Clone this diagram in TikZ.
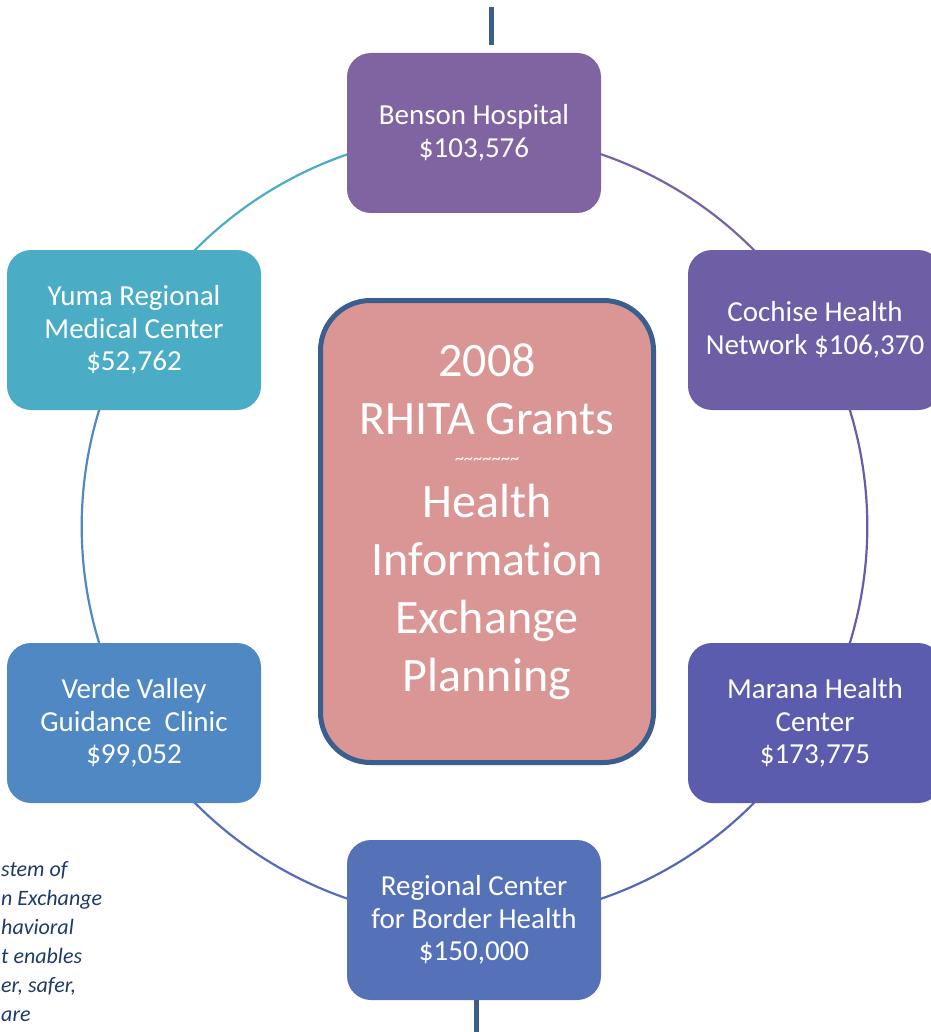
\documentclass[tikz,border=0pt]{standalone}
\usepackage{fontspec}
\setmainfont{Carlito}[Ligatures=NoCommon]
\usetikzlibrary{backgrounds}

\definecolor{benson}{HTML}{8064A2}
\definecolor{cochise}{HTML}{6D5EA6}
\definecolor{marana}{HTML}{5B5CAD}
\definecolor{regional}{HTML}{5572B9}
\definecolor{verde}{HTML}{4F88C2}
\definecolor{yuma}{HTML}{4BACC6}
\definecolor{hubfill}{HTML}{D99694}
\definecolor{frame}{HTML}{3A5F8E}
\definecolor{notec}{HTML}{1F3A68}

\newcommand{\squiggles}{\textasciitilde\textasciitilde\textasciitilde\textasciitilde\textasciitilde\textasciitilde\textasciitilde}

\begin{document}
\begin{tikzpicture}[x=1pt, y=-1pt,
  grant/.style={fill=#1, rounded corners=24pt, minimum width=254pt, minimum height=160pt,
    inner sep=0pt, text=white, align=center, font=\fontsize{29}{32.5}\selectfont},
  ring/.style={draw=#1, line width=2.2pt},
  stub/.style={draw=frame, line width=5pt},
  hubtext/.style={text=white, align=center, inner sep=0pt, font=\fontsize{48}{58}\selectfont},
  note/.style={text=notec, align=left, inner sep=0pt, font=\itshape\fontsize{22}{29}\selectfont}]
  \useasboundingbox (0,0) rectangle (930,1032);

  % grants round the ring
  \node[grant=benson]   (Benson)   at (474,133)   {Benson Hospital\\\$103,576};
  \node[grant=cochise]  (Cochise)  at (815,330)   {Cochise Health\\Network \$106,370};
  \node[grant=marana]   (Marana)   at (815,723)   {Marana Health\\Center\\\$173,775};
  \node[grant=regional] (Regional) at (474,920)   {Regional Center\\for Border Health\\\$150,000};
  \node[grant=verde]    (Verde)    at (134,723)   {Verde Valley\\Guidance\ \ Clinic\\\$99,052};
  \node[grant=yuma]     (Yuma)     at (134,330)   {Yuma Regional\\Medical Center\\\$52,762};

  % centre box
  \node[fill=hubfill, draw=frame, line width=5pt, rounded corners=50pt,
        minimum width=333pt, minimum height=462pt] (Hub) at (487,531.5) {};
  \node[hubtext, anchor=north] (HubText) at (487,344)
    {2008\\RHITA Grants\\[-28pt]{\fontsize{18.5}{20}\selectfont\squiggles}\\[-5pt]Health\\Information\\Exchange\\Planning};

  % the ring
  \begin{scope}[on background layer]
    \draw[ring=benson!60!cochise]   (Benson.center)   to[bend left=30, looseness=0.91] (Cochise.center);
    \draw[ring=cochise!60!marana]   (Cochise.center)  to[bend left=30, looseness=0.91] (Marana.center);
    \draw[ring=marana!50!regional]  (Marana.center)   to[bend left=30, looseness=0.91] (Regional.center);
    \draw[ring=regional!80!marana]  (Regional.center) to[bend left=30, looseness=0.91] (Verde.center);
    \draw[ring=verde]               (Verde.center)    to[bend left=30, looseness=0.91] (Yuma.center);
    \draw[ring=yuma]                (Yuma.center)     to[bend left=30, looseness=0.91] (Benson.center);
  \end{scope}

  % stubs above and below
  \coordinate (TopA) at (491,7);
  \coordinate (TopB) at (491,45);
  \coordinate (BotA) at (476,1000);
  \coordinate (BotB) at (476,1032);
  \draw[stub] (TopA) -- (TopB);
  \draw[stub] (BotA) -- (BotB);

  % cut-off note
  \node[note, anchor=north west] (Note) at (1,861)
    {stem of\\n Exchange\\havioral\\t enables\\er, safer,\\are};
\end{tikzpicture}
\end{document}
